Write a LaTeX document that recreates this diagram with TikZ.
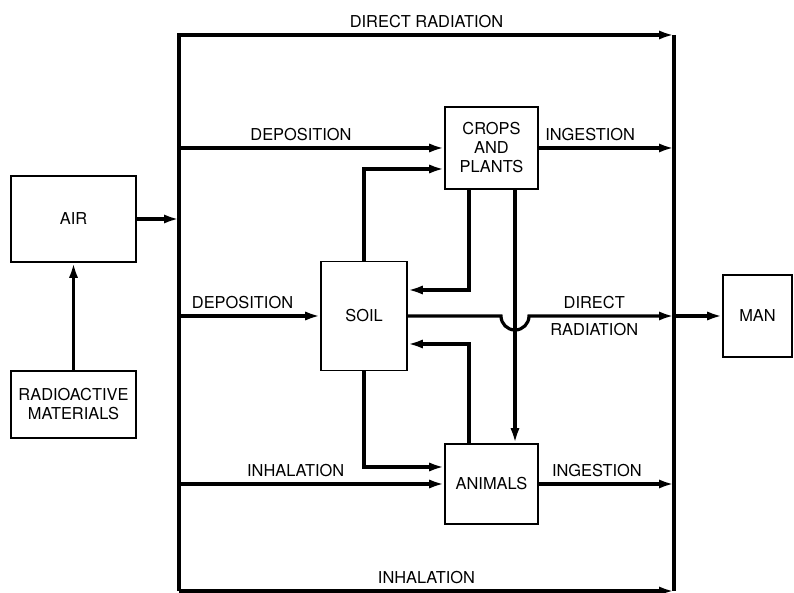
\documentclass[tikz,border=0pt]{standalone}
\usepackage{fontspec}
\setmainfont{TeX Gyre Heros}
\usepackage{tikz}
\usetikzlibrary{arrows.meta}

\begin{document}
\begin{tikzpicture}[
    x=0.5pt, y=-0.5pt,
    font=\fontsize{8.2}{9.5}\selectfont,
    block/.style={
        rectangle, draw=black, line width=0.8pt, inner sep=0pt, align=center
    },
    flow/.style={
        -{Latex[length=7.5pt, width=4.6pt]}, line width=1.6pt
    },
    bus/.style={
        line width=1.6pt
    },
    pathname/.style={
        inner sep=3pt
    }
]

% Page frame (keeps the margins)
\useasboundingbox (0,0) rectangle (794,593);

% Sources on the left
\node[block, minimum width=62.5pt, minimum height=43pt] (air) at (73.5,219) {AIR};
\node[block, minimum width=62.5pt, minimum height=33.5pt] (radio) at (73.5,404.5) {RADIOACTIVE\\MATERIALS};

% Environment boxes
\node[block, minimum width=46.5pt, minimum height=41pt] (crops) at (491.5,148) {CROPS\\AND\\PLANTS};
\node[block, minimum width=43pt, minimum height=54.5pt] (soil) at (364,316) {SOIL};
\node[block, minimum width=46.5pt, minimum height=40pt] (animals) at (491.5,484) {ANIMALS};

% Receptor
\node[block, minimum width=34.5pt, minimum height=41pt] (man) at (757.5,316) {MAN};

% Bus corners
\coordinate (lt) at (179,35);
\coordinate (lb) at (179,591);
\coordinate (rt) at (674,35);
\coordinate (rb) at (674,591);
\coordinate (cross) at ([xshift=11.75pt]crops.south |- soil.east);

% Buses (Direct radiation on top, inhalation at the bottom)
\draw[flow] (lb) -- (lt) -- node[above, pathname] {DIRECT RADIATION} (rt);
\draw[bus] (rt) -- (rb);
\draw[flow] (lb) -- node[above, pathname] {INHALATION} (rb);

% Air feed
\draw[flow] (radio) -- (air);
\draw[flow] (air) -- (air -| lt);

% Deposition and inhalation from the air
\draw[flow] (crops.west -| lt) -- node[above, pathname, pos=0.46] {DEPOSITION} (crops.west);
\draw[flow] (soil.west -| lt) -- node[above, pathname, pos=0.45] {DEPOSITION} (soil.west);
\draw[flow] (animals.west -| lt) -- node[above, pathname, pos=0.44] {INHALATION} (animals.west);

% Ingestion towards man
\draw[flow] (crops.east) -- node[above, pathname, pos=0.38] {INGESTION} (crops.east -| rt);
\draw[flow] (animals.east) -- node[above, pathname, pos=0.43] {INGESTION} (animals.east -| rt);

% Exchanges between soil, crops and animals
\draw[flow] (soil.north) |- ([yshift=-10.5pt]crops.west);
\draw[flow] ([xshift=-11.25pt]crops.south) |- ([yshift=13pt]soil.east);
\draw[flow] ([xshift=11.75pt]crops.south) -- ([xshift=11.75pt]animals.north);
\draw[flow] ([xshift=-11.25pt]animals.north) |- ([yshift=-14pt]soil.east);
\draw[flow] (soil.south) |- ([yshift=8.5pt]animals.west);

% Direct radiation from soil, hopping over the crops-animals line
\draw[flow] (soil.east) -- ([xshift=-7pt]cross) arc[start angle=180, end angle=360, radius=7pt]
    -- node[above, pathname, pos=0.45] {DIRECT} node[below, pathname, pos=0.45] {RADIATION} (soil.east -| rt);
\draw[flow] (man.west -| rt) -- (man.west);

\end{tikzpicture}
\end{document}
